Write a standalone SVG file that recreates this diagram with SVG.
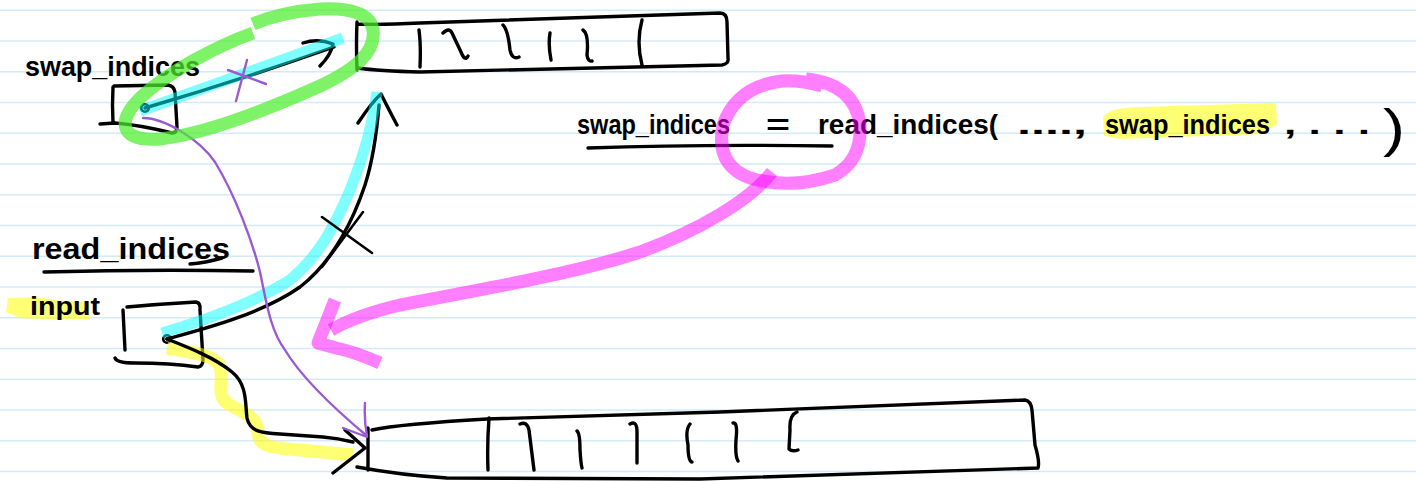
<svg xmlns="http://www.w3.org/2000/svg" width="1416" height="481" viewBox="0 0 1416 481">
<style>
.rule{stroke:#d3eaf8;stroke-width:1.4}
.ink{fill:none;stroke:#000;stroke-width:3.4;stroke-linecap:round;stroke-linejoin:round}
.thin{fill:none;stroke:#000;stroke-width:2.6;stroke-linecap:round;stroke-linejoin:round}
.hand{font-family:"Liberation Sans",Arial,sans-serif;font-weight:bold;fill:#000}
.paren{font-family:"Liberation Sans",Arial,sans-serif;font-weight:normal;fill:#000}
.cyan{fill:none;stroke:#00ffff;stroke-opacity:0.5;stroke-width:11;stroke-linecap:butt;stroke-linejoin:round}
.yel{fill:none;stroke:#ffff00;stroke-opacity:0.55;stroke-width:13;stroke-linejoin:round}
.pink{fill:none;stroke:#ff00ff;stroke-opacity:0.5;stroke-width:13;stroke-linecap:butt;stroke-linejoin:round}
.green{fill:none;stroke:#4cef2c;stroke-opacity:0.72;stroke-width:13;stroke-linecap:butt;stroke-linejoin:round}
.purple{fill:none;stroke:#9a5ad2;stroke-width:2.4;stroke-linecap:round;stroke-linejoin:round}
</style>
<rect width="1416" height="481" fill="#fff"/>
<g id="ruling">
<line class="rule" x1="0" y1="10.3" x2="1416" y2="10.3"/>
<line class="rule" x1="0" y1="41" x2="1416" y2="41"/>
<line class="rule" x1="0" y1="71.8" x2="1416" y2="71.8"/>
<line class="rule" x1="0" y1="102.5" x2="1416" y2="102.5"/>
<line class="rule" x1="0" y1="133.3" x2="1416" y2="133.3"/>
<line class="rule" x1="0" y1="164" x2="1416" y2="164"/>
<line class="rule" x1="0" y1="194.8" x2="1416" y2="194.8"/>
<line class="rule" x1="0" y1="225.5" x2="1416" y2="225.5"/>
<line class="rule" x1="0" y1="256.3" x2="1416" y2="256.3"/>
<line class="rule" x1="0" y1="287" x2="1416" y2="287"/>
<line class="rule" x1="0" y1="317.8" x2="1416" y2="317.8"/>
<line class="rule" x1="0" y1="348.5" x2="1416" y2="348.5"/>
<line class="rule" x1="0" y1="379.3" x2="1416" y2="379.3"/>
<line class="rule" x1="0" y1="410" x2="1416" y2="410"/>
<line class="rule" x1="0" y1="440.8" x2="1416" y2="440.8"/>
<line class="rule" x1="0" y1="471.5" x2="1416" y2="471.5"/>
</g>

<g id="label-swap-indices">
<text class="hand" x="25" y="76" font-size="28" textLength="175" lengthAdjust="spacingAndGlyphs">swap_indices</text>
</g>

<g id="box-swap-indices">
<path class="ink" d="M113,87 Q112,105 113,123 M100,124 L115,123 Q140,125 172,133 Q177,133 177,127 L175,92 Q174,86 168,85 L114,86"/>
<circle cx="145" cy="108" r="3.8" fill="none" stroke="#000" stroke-width="2.6"/>
</g>

<g id="array-top">
<path class="ink" d="M357,22 Q356,45 357,70 M357,24 Q380,25 420,23 L720,13 Q727,13 727,22 L728,58 Q729,64 722,65 L420,72 Q380,71 357,68"/>
<path class="ink" d="M419,30 Q421,45 420,67 M443,33 Q449,27 452,33 L461,52 Q465,62 468,56 M503,25 Q508,30 510,50 Q512,60 519,57 M550,33 Q548,45 551,60 M583,30 Q589,34 587,55 Q588,62 592,61 M642,20 Q636,42 642,65"/>
</g>

<g id="label-read-indices">
<text class="hand" x="32" y="259" font-size="29" textLength="198" lengthAdjust="spacingAndGlyphs">read_indices</text>
<path class="ink" d="M44,272 Q150,269 253,271 M190,264 Q205,263 222,258"/>
</g>

<g id="label-input">
<path d="M8,298 Q40,296 60,301 L90,302 L90,319 Q50,320 20,318 L6,312 Z" fill="#ffff00" fill-opacity="0.55"/>
<text class="hand" x="30" y="315" font-size="26" textLength="70" lengthAdjust="spacingAndGlyphs">input</text>
</g>

<g id="box-input">
<path class="ink" d="M127,307 Q160,304 196,302 Q201,303 200,310 L203,360 M123,310 Q124,330 125,350 M115,358 Q117,363 135,363 Q170,363 198,367 Q203,366 203,360"/>
<circle cx="167" cy="339" r="3.8" fill="none" stroke="#000" stroke-width="2.6"/>
</g>

<g id="array-bottom">
<path class="ink" d="M368,428 L368,470 M372,430 Q400,424 487,419 L720,412 L1025,400 Q1031,401 1032,410 L1035,445 Q1040,462 1038,468 M357,467 Q400,475 447,478 L700,479 L1038,468"/>
<path class="ink" d="M489,418 Q487,445 488,470 M520,424 Q527,421 529,430 L534,470 M577,431 Q580,433 580,450 Q581,465 582,468 M630,424 Q637,420 637,432 L637,463 M690,424 Q685,430 688,445 Q688,462 692,462 M733,423 Q738,422 736,440 Q735,456 738,461 M797,412 Q789,415 790,430 L789,449 Q792,452 798,450"/>
</g>

<g id="formula">
<path d="M1103,118 Q1106,108 1140,107 L1276,103 L1277,124 L1262,134 L1120,139 L1104,136 Z" fill="#ffff00" fill-opacity="0.55"/>
<text class="hand" x="577" y="134" font-size="28" textLength="153" lengthAdjust="spacingAndGlyphs">swap_indices</text>
<text class="hand" x="766" y="134" font-size="28" textLength="24" lengthAdjust="spacingAndGlyphs">=</text>
<text class="hand" x="818" y="134" font-size="28" textLength="180" lengthAdjust="spacingAndGlyphs">read_indices(</text>
<text class="hand" x="1017" y="134" font-size="28" textLength="70" lengthAdjust="spacingAndGlyphs">....,</text>
<text class="hand" x="1105" y="134" font-size="28" textLength="165" lengthAdjust="spacingAndGlyphs">swap_indices</text>
<text class="hand" x="1284" y="134" font-size="28" textLength="86" lengthAdjust="spacingAndGlyphs">, . . .</text>
<text class="paren" x="1383" y="146" font-size="52" textLength="22" lengthAdjust="spacingAndGlyphs">)</text>
<path class="ink" d="M588,148 Q700,144 832,146"/>
</g>

<g id="connectors">
<path class="ink" d="M145,108 Q240,80 334,47 M303,43 Q318,38 333,44 Q331,55 320,66"/>
<path class="cyan" d="M140,111 L343,38"/>
<path class="purple" d="M247,60 L236,101 M228,70 L266,84"/>
<path class="ink" d="M167,339 C200,330 260,315 300,287 C335,260 355,215 365,185 C373,160 377,130 379,105 M358,123 Q372,102 381,94 Q388,108 397,125"/>
<path class="cyan" d="M162,333 C200,322 250,305 290,280 C320,255 335,225 350,190 C362,160 372,130 377,92"/>
<path class="thin" d="M322,217 L372,253 M363,212 L322,267"/>
<path class="yel" d="M167,348 C190,352 210,354 219,364 C226,378 214,394 228,404 C248,414 258,420 258,432 C258,446 270,448 300,450 L353,455"/>
<path class="ink" d="M167,339 C190,348 215,358 232,372 C248,385 245,405 247,418 C250,432 262,433 280,434 L323,437 C335,438 345,440 353,442 M345,430 L365,448 L333,473"/>
<path class="purple" d="M143,118 C165,118 200,140 215,162 C235,195 252,240 260,272 C266,300 270,330 285,350 C300,375 330,405 367,436 M343,428 L367,437 M365,403 Q364,420 367,436"/>
<path class="green" d="M253,33 C220,45 170,70 140,98 C116,122 120,142 160,139 C205,134 262,112 320,86 C356,69 376,52 373,30 C371,14 350,7 320,9 C295,11 272,16 253,24"/>
<path class="pink" d="M822,86 Q800,80 782,81 Q737,86 723,125 Q715,165 750,178 Q790,190 835,175 Q862,160 860,125 Q855,84 806,79"/>
<path class="pink" d="M772,172 C750,200 700,230 640,252 C580,272 480,290 400,305 C370,312 345,322 331,330"/>
<path class="pink" d="M335,300 L318,343 L336,348 Q355,352 380,363"/>
</g>
</svg>
